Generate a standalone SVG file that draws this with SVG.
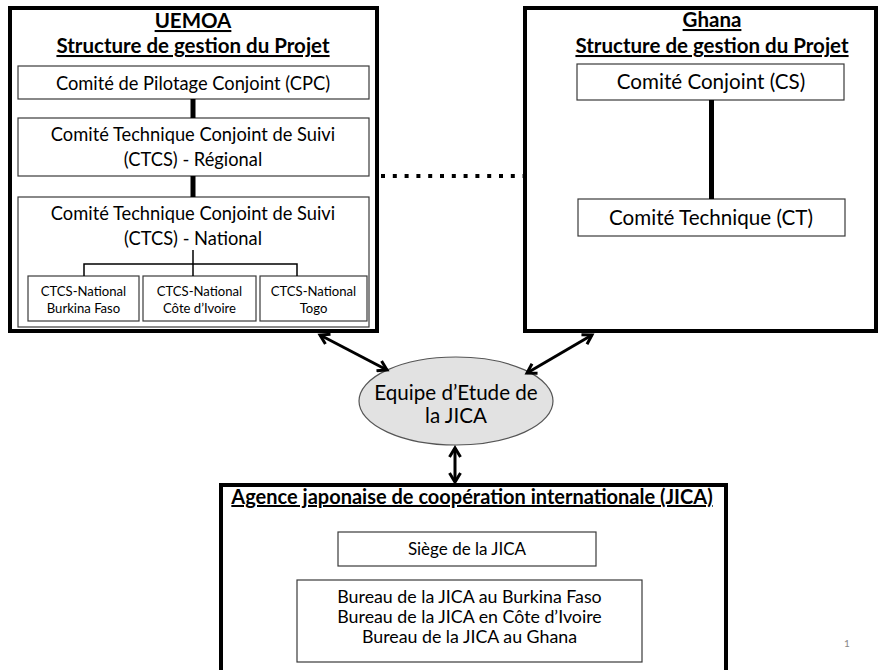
<svg xmlns="http://www.w3.org/2000/svg" width="880" height="670" viewBox="0 0 880 670">
<defs>
<style>
text{font-family:Lato,"Liberation Sans",sans-serif;fill:#000;text-anchor:middle}
.frame{fill:#fff;stroke:#000;stroke-width:4}
.box{fill:#fff;stroke:#3a3a3a;stroke-width:1.2}
.h{font-weight:bold;text-decoration:underline;font-size:20.5px}
.m{font-size:18.3px}
.l{font-size:20.6px}
.s{font-size:13.1px}
.k{font-size:17px}
.b{font-size:17.8px}
.bar{stroke:#000;stroke-width:5;fill:none}
.thin{stroke:#000;stroke-width:1.5;fill:none}
.arr{stroke:#000;stroke-width:3;fill:none;marker-start:url(#ah);marker-end:url(#ah)}
</style>
<marker id="ah" viewBox="0 0 14 14" refX="11" refY="7" markerWidth="14" markerHeight="14" markerUnits="userSpaceOnUse" orient="auto-start-reverse">
<path d="M2,1.5 L11,7 L2,12.5" fill="none" stroke="#000" stroke-width="3"/>
</marker>
</defs>

<g id="uemoa">
<rect class="frame" x="10" y="8" width="367" height="323"/>
<text class="h" x="193" y="28">UEMOA</text>
<text class="h" x="193" y="53">Structure de gestion du Projet</text>
</g>
<g id="cpc">
<rect class="box" x="18" y="66" width="351" height="33"/>
<text class="m" x="193" y="90">Comité de Pilotage Conjoint (CPC)</text>
</g>
<g id="ctcs-regional">
<rect class="box" x="18" y="118" width="351" height="58"/>
<text class="m" x="193" y="141">Comité Technique Conjoint de Suivi</text>
<text class="m" x="193" y="166">(CTCS) - Régional</text>
</g>
<g id="ctcs-national">
<rect class="box" x="18" y="197" width="351" height="130"/>
<text class="m" x="193" y="220">Comité Technique Conjoint de Suivi</text>
<text class="m" x="193" y="245">(CTCS) - National</text>
</g>
<g id="ctcs-bf">
<rect class="box" x="28" y="276" width="111" height="45"/>
<text class="s" x="83.5" y="296">CTCS-National</text>
<text class="s" x="83.5" y="313">Burkina Faso</text>
</g>
<g id="ctcs-ci">
<rect class="box" x="143" y="276" width="113" height="45"/>
<text class="s" x="199.5" y="296">CTCS-National</text>
<text class="s" x="199.5" y="313">Côte d’Ivoire</text>
</g>
<g id="ctcs-tg">
<rect class="box" x="260" y="276" width="107" height="45"/>
<text class="s" x="313.5" y="296">CTCS-National</text>
<text class="s" x="313.5" y="313">Togo</text>
</g>

<g id="ghana">
<rect class="frame" x="525" y="8" width="351" height="323"/>
<text class="h" x="712" y="27">Ghana</text>
<text class="h" x="712" y="53">Structure de gestion du Projet</text>
</g>
<g id="cs">
<rect class="box" x="577" y="64" width="267" height="36"/>
<text class="l" x="711" y="89">Comité Conjoint (CS)</text>
</g>
<g id="ct">
<rect class="box" x="578" y="199" width="267" height="37"/>
<text class="l" x="711" y="225">Comité Technique (CT)</text>
</g>

<g id="equipe">
<ellipse cx="456" cy="401" rx="97" ry="44" fill="#e2e2e2" stroke="#555" stroke-width="1.2"/>
<text class="l" x="456" y="400">Equipe d’Etude de</text>
<text class="l" x="456" y="423">la JICA</text>
</g>

<g id="jica">
<rect class="frame" x="221" y="485" width="505" height="200"/>
<text class="h" x="472" y="504" style="font-size:20px">Agence japonaise de coopération internationale (JICA)</text>
</g>
<g id="siege">
<rect class="box" x="338" y="532" width="258" height="34"/>
<text class="k" x="467" y="555">Siège de la JICA</text>
</g>
<g id="bureaux">
<rect class="box" x="297" y="580" width="345" height="82"/>
<text class="b" x="469.5" y="603">Bureau de la JICA au Burkina Faso</text>
<text class="b" x="469.5" y="623">Bureau de la JICA en Côte d’Ivoire</text>
<text class="b" x="469.5" y="643">Bureau de la JICA au Ghana</text>
</g>

<g id="connectors">
<line class="bar" x1="193" y1="99" x2="193" y2="118"/>
<line class="bar" x1="193" y1="176" x2="193" y2="197"/>
<line class="thin" x1="193" y1="250" x2="193" y2="276"/>
<polyline class="thin" points="84,276 84,264 297,264 297,276"/>
<line class="bar" x1="711.5" y1="100" x2="711.5" y2="199"/>
<line x1="381" y1="176" x2="527" y2="176" stroke="#000" stroke-width="4" stroke-dasharray="4 7.8"/>
<line class="arr" x1="320" y1="335" x2="387" y2="370"/>
<line class="arr" x1="592" y1="335" x2="527" y2="373"/>
<line class="arr" x1="455" y1="448" x2="455" y2="482"/>
</g>

<text x="847" y="647" style="font-size:10px;fill:#888">1</text>
</svg>
